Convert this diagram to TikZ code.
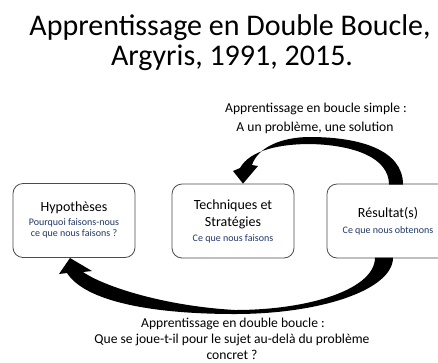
\documentclass[tikz,border=0pt]{standalone}
\usepackage{fontspec}
\setmainfont{Carlito}
\definecolor{subtxt}{RGB}{31,56,100}
\begin{document}
\begin{tikzpicture}[x=1pt,y=-1pt,
  box/.style={draw=black!70, line width=0.8pt, rounded corners=10pt, fill=white,
    minimum width=122pt, minimum height=74pt, inner sep=0pt},
  title/.style={anchor=base, inner sep=0pt, font=\fontsize{30}{36}\selectfont},
  label/.style={anchor=base, inner sep=0pt, font=\fontsize{13.6}{16}\selectfont},
  boxhead/.style={anchor=base, inner sep=0pt, font=\fontsize{14}{16}\selectfont},
  boxsub/.style={anchor=base, inner sep=0pt, text=subtxt, font=\fontsize{10}{12}\selectfont},
  blockarrow/.style={fill=black, draw=none}]
\useasboundingbox (0,0) rectangle (438,362);

% title
\node[title] (t1) at (230,35) {Apprentissage en Double Boucle,};
\node[title] (t2) at (232,65) {Argyris, 1991, 2015.};

% the three boxes
\node[box] (hyp) at (74,220.5) {};
\node[box] (tech) at (233,221) {};
\node[box] (res) at (388,221) {};

% box texts
\node[boxhead] (hypA) at (hyp.center |- 0,211.5) {Hypothèses};
\node[boxsub]  (hypB) at (hyp.center |- 0,225.5) {Pourquoi faisons-nous};
\node[boxsub]  (hypC) at (hyp.center |- 0,236) {ce que nous faisons ?};

\node[boxhead] (techA) at (tech.center |- 0,209) {Techniques et};
\node[boxhead] (techB) at (tech.center |- 0,226) {Stratégies};
\node[boxsub]  (techC) at (tech.center |- 0,241) {Ce que nous faisons};

\node[boxhead] (resA) at (res.center |- 0,217) {Résultat(s)};
\node[boxsub]  (resB) at (res.center |- 0,233) {Ce que nous obtenons};

% single loop: from the result back to the techniques
\fill[blockarrow]
  (403,184.5) .. controls (403,150) and (360,137) .. (310,137)
  .. controls (282,137) and (258,147) .. (252,165)
  -- (258,166) -- (243,183.6) -- (233,171) -- (240,168)
  .. controls (250,150) and (280,144) .. (310,144)
  .. controls (355,145) and (389,158) .. (389,184.5) -- cycle;

% double loop: from the result back to the hypotheses
\fill[blockarrow]
  (393,257.6) .. controls (393,290) and (320,314) .. (235,314)
  .. controls (150,314) and (85,301) .. (67,273)
  -- (59,274) -- (70,258) -- (92,271) -- (83,272)
  .. controls (105,287) and (165,306) .. (235,310)
  .. controls (310,310) and (375,289) .. (375,257.6) -- cycle;

% loop labels
\node[label] (simpleA) at (316,112) {Apprentissage en boucle simple :};
\node[label] (simpleB) at (315,131) {A un problème, une solution};
\node[label] (doubleA) at (233,327) {Apprentissage en double boucle :};
\node[label] (doubleB) at (232,343.5) {Que se joue-t-il pour le sujet au-delà du problème};
\node[label] (doubleC) at (232,359.5) {concret ?};
\end{tikzpicture}
\end{document}
